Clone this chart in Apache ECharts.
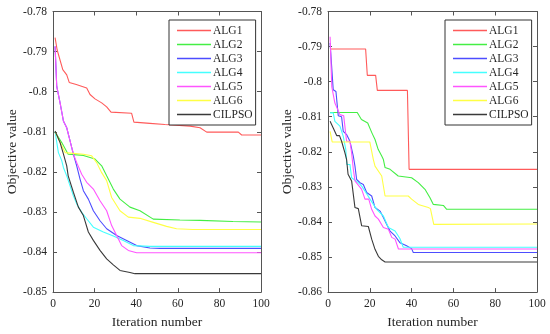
<!DOCTYPE html>
<html><head><meta charset="utf-8">
<script src="https://cdn.jsdelivr.net/npm/echarts@6/dist/echarts.min.js"></script>
<style>html,body{margin:0;padding:0;background:#fff}#c{width:550px;height:334px}</style>
</head><body><div id="c"></div>
<script>
var seriesNames = ['ALG1','ALG2','ALG3','ALG4','ALG5','ALG6','CILPSO'];
var seriesColors = ['#ff5a5a','#44ee44','#4d4dff','#44ffff','#ff55ff','#ffff44','#3a3a3a'];
var xTicks = [0,20,40,60,80,100];

// Left panel
var left_ALG1 = [[1,-0.7865],[2,-0.7896],[4.7,-0.7945],[6.6,-0.7958],[7.8,-0.7977],[11.2,-0.7982],[16.2,-0.7991],[17.8,-0.8007],[20.2,-0.8018],[23.4,-0.8028],[25.8,-0.8038],[27.9,-0.8051],[37.8,-0.8054],[38.9,-0.8076],[46.6,-0.8079],[53.8,-0.8082],[54.6,-0.8086],[65.9,-0.8086],[70.7,-0.809],[73.9,-0.8101],[89.1,-0.8101],[90.7,-0.8108],[100,-0.8108]];
var left_ALG2 = [[1,-0.8101],[4.2,-0.8127],[7.3,-0.8156],[14.6,-0.8159],[20.2,-0.8168],[23.4,-0.8185],[25.8,-0.821],[29,-0.8243],[32.2,-0.8268],[37,-0.8288],[41.8,-0.8297],[48.2,-0.8318],[61,-0.832],[70.7,-0.8321],[86.5,-0.8324],[100,-0.8325]];
var left_ALG3 = [[1,-0.7887],[1.8,-0.7987],[3.4,-0.8028],[5,-0.8073],[6.6,-0.809],[8.2,-0.8123],[9.8,-0.8156],[11.4,-0.8185],[13,-0.8218],[14.6,-0.8247],[17,-0.8268],[19.4,-0.8297],[22.6,-0.8322],[25.8,-0.8342],[30.6,-0.8359],[35.4,-0.8371],[40.2,-0.8384],[46.6,-0.839],[51.4,-0.8391],[100,-0.8391]];
var left_ALG4 = [[1,-0.81],[2.6,-0.8152],[4.2,-0.8172],[5,-0.8189],[6.6,-0.821],[8.2,-0.8235],[9.8,-0.826],[11.4,-0.828],[13.8,-0.8301],[16.2,-0.8317],[19.4,-0.8338],[24.2,-0.835],[29,-0.836],[33.8,-0.8371],[38.6,-0.8384],[46.6,-0.8386],[100,-0.8386]];
var left_ALG5 = [[1,-0.7887],[1.8,-0.7987],[3.4,-0.8028],[5,-0.8073],[6.6,-0.809],[8.2,-0.8123],[9.8,-0.8156],[11.4,-0.8177],[13.8,-0.8206],[16.2,-0.8226],[19.4,-0.8243],[22.6,-0.8272],[25.8,-0.8297],[28.2,-0.8334],[30.6,-0.8359],[33,-0.8384],[36.2,-0.8396],[40.2,-0.8402],[100,-0.8402]];
var left_ALG6 = [[1,-0.81],[5.8,-0.8152],[14.6,-0.8156],[18.6,-0.816],[21,-0.8177],[23.4,-0.8202],[25.8,-0.8222],[28.2,-0.8264],[32.2,-0.8297],[36.2,-0.8313],[41.8,-0.8316],[48.2,-0.8326],[54.6,-0.8336],[59.4,-0.8342],[67.3,-0.8344],[100,-0.8344]];
var left_CILPSO = [[1,-0.8098],[1.8,-0.8102],[3.4,-0.8127],[5,-0.8155],[6.6,-0.8185],[7.3,-0.821],[9.8,-0.8251],[12.2,-0.8288],[14.6,-0.8309],[17,-0.835],[19.4,-0.8371],[22.6,-0.8396],[25.8,-0.8417],[29,-0.8432],[32.2,-0.8446],[37,-0.8451],[39.4,-0.8454],[100,-0.8454]];

// Right panel
var right_ALG1 = [[1,-0.7907],[18,-0.7907],[18.8,-0.7982],[22.8,-0.7982],[23.6,-0.8025],[38,-0.8025],[38.8,-0.825],[100,-0.825]];
var right_ALG2 = [[1,-0.8088],[14,-0.8088],[16,-0.8108],[19,-0.8118],[21,-0.8146],[22.5,-0.8165],[24,-0.8193],[25.7,-0.8212],[26.5,-0.8222],[27.3,-0.8245],[29.7,-0.825],[33.6,-0.8269],[40,-0.8274],[43.2,-0.8288],[46.4,-0.8307],[48.8,-0.8331],[50.4,-0.835],[55.2,-0.8353],[56.8,-0.8364],[100,-0.8364]];
var right_ALG3 = [[1,-0.789],[2.5,-0.8023],[3.8,-0.8028],[4.9,-0.8097],[6.5,-0.81],[7.3,-0.8142],[8.9,-0.8151],[10.5,-0.817],[12.1,-0.8212],[12.9,-0.8241],[13.7,-0.8279],[15.3,-0.8288],[16.9,-0.8293],[18.5,-0.8316],[20.9,-0.8326],[22.5,-0.8359],[24.9,-0.8369],[26.5,-0.8387],[28.1,-0.8407],[29.7,-0.8426],[32.1,-0.844],[34.4,-0.8459],[37.6,-0.8468],[40,-0.8476],[40.8,-0.8487],[100,-0.8487]];
var right_ALG4 = [[1,-0.8089],[2.5,-0.8089],[3.3,-0.8113],[5.7,-0.8127],[7.3,-0.8156],[8.5,-0.8193],[9,-0.8236],[10.5,-0.8236],[11.3,-0.8274],[14.5,-0.8288],[16.1,-0.8298],[17.7,-0.8312],[20.1,-0.8335],[23.3,-0.8364],[26.5,-0.8383],[28.9,-0.8416],[32.1,-0.8426],[34.4,-0.8447],[36,-0.8472],[100,-0.8472]];
var right_ALG5 = [[1,-0.7872],[1.8,-0.8014],[3.3,-0.8061],[5.7,-0.8094],[7.5,-0.8097],[8.9,-0.817],[10.5,-0.817],[11.3,-0.8203],[12.1,-0.8249],[12.9,-0.8283],[16.1,-0.8307],[17.7,-0.8335],[19.5,-0.8335],[20.9,-0.8364],[22.5,-0.8383],[24.1,-0.8392],[26.5,-0.8416],[28.9,-0.8421],[30.5,-0.8444],[32.1,-0.8449],[33.7,-0.8477],[100,-0.8477]];
var right_ALG6 = [[1,-0.8142],[2,-0.8172],[20,-0.8172],[21.7,-0.8222],[22.5,-0.8241],[25.7,-0.8269],[27.3,-0.8326],[38.4,-0.8326],[40,-0.8335],[43.2,-0.835],[48,-0.8359],[49,-0.8362],[50.6,-0.8407],[100,-0.8406]];
var right_CILPSO = [[1,-0.8113],[2.5,-0.8132],[4.2,-0.8154],[5.5,-0.8154],[6.5,-0.817],[8.1,-0.8203],[8.9,-0.8222],[9.6,-0.8264],[11.3,-0.8283],[12.9,-0.8359],[14.5,-0.8362],[16.1,-0.8411],[19.3,-0.8413],[20.9,-0.8449],[22.5,-0.8478],[24.1,-0.8498],[25.7,-0.8508],[27.3,-0.8514],[100,-0.8514]];

var leftData = [left_ALG1,left_ALG2,left_ALG3,left_ALG4,left_ALG5,left_ALG6,left_CILPSO];
var rightData = [right_ALG1,right_ALG2,right_ALG3,right_ALG4,right_ALG5,right_ALG6,right_CILPSO];
var leftY = {min:-0.85, max:-0.78, interval:0.01};
var rightY = {min:-0.86, max:-0.78, interval:0.01};

var FONT = 'Liberation Serif';
var AX = '#555555';
var TXT = '#262626';
function fmt(v){ return String(Math.round(v*100)/100); }

function xAxes(gi){
  return [
    {type:'value', gridIndex:gi, min:0, max:100, interval:20, position:'bottom',
     name:'Iteration number', nameLocation:'middle', nameGap:21,
     nameTextStyle:{fontFamily:FONT, fontSize:13.5, color:TXT},
     axisLine:{show:true, onZero:false, lineStyle:{color:AX, width:1}},
     axisTick:{show:true, inside:true, length:4, lineStyle:{color:AX}},
     axisLabel:{fontFamily:FONT, fontSize:11.5, color:TXT, margin:6},
     splitLine:{show:false}},
    {type:'value', gridIndex:gi, min:0, max:100, interval:20, position:'top',
     axisLine:{show:true, onZero:false, lineStyle:{color:AX, width:1}},
     axisTick:{show:true, inside:true, length:4, lineStyle:{color:AX}},
     axisLabel:{show:false}, splitLine:{show:false}}
  ];
}
function yAxes(gi, r){
  return [
    {type:'value', gridIndex:gi, min:r.min, max:r.max, interval:r.interval, position:'left',
     name:'Objective value', nameLocation:'middle', nameGap:34, nameRotate:90,
     nameTextStyle:{fontFamily:FONT, fontSize:13.5, color:TXT},
     axisLine:{show:true, onZero:false, lineStyle:{color:AX, width:1}},
     axisTick:{show:true, inside:true, length:4, lineStyle:{color:AX}},
     axisLabel:{fontFamily:FONT, fontSize:11.5, color:TXT, margin:6, formatter:fmt},
     splitLine:{show:false}},
    {type:'value', gridIndex:gi, min:r.min, max:r.max, interval:r.interval, position:'right',
     axisLine:{show:true, onZero:false, lineStyle:{color:AX, width:1}},
     axisTick:{show:true, inside:true, length:4, lineStyle:{color:AX}},
     axisLabel:{show:false}, splitLine:{show:false}}
  ];
}

var series = [];
function addSeries(dataList, xi, yi){
  dataList.forEach(function(d, i){
    series.push({type:'line', name:seriesNames[i], xAxisIndex:xi, yAxisIndex:yi,
      data:d, symbol:'none', showSymbol:false, silent:true, animation:false,
      lineStyle:{color:seriesColors[i], width:1.1}, itemStyle:{color:seriesColors[i]}});
  });
}
addSeries(leftData, 0, 0);
addSeries(rightData, 2, 2);

function legend(left){
  return {show:true, orient:'vertical', left:left, top:20, data:seriesNames,
    icon:'rect', backgroundColor:'#fff', borderColor:'#333', borderWidth:1, padding:[4,3,4,8],
    itemWidth:34, itemHeight:1.3, itemGap:1, selectedMode:false,
    textStyle:{fontFamily:FONT, fontSize:11.5, color:TXT, lineHeight:13, padding:[0,0,0,-3]}};
}

var chart = echarts.init(document.getElementById('c'), null, {renderer:'canvas'});
chart.setOption({
  animation:false,
  backgroundColor:'#fff',
  grid:[{left:53, right:289, top:11.5, bottom:41},{left:328, right:13, top:11.5, bottom:41}],
  xAxis: xAxes(0).concat(xAxes(1)),
  yAxis: yAxes(0, leftY).concat(yAxes(1, rightY)),
  legend:[legend(169), legend(445)],
  series: series
});
</script></body></html>
